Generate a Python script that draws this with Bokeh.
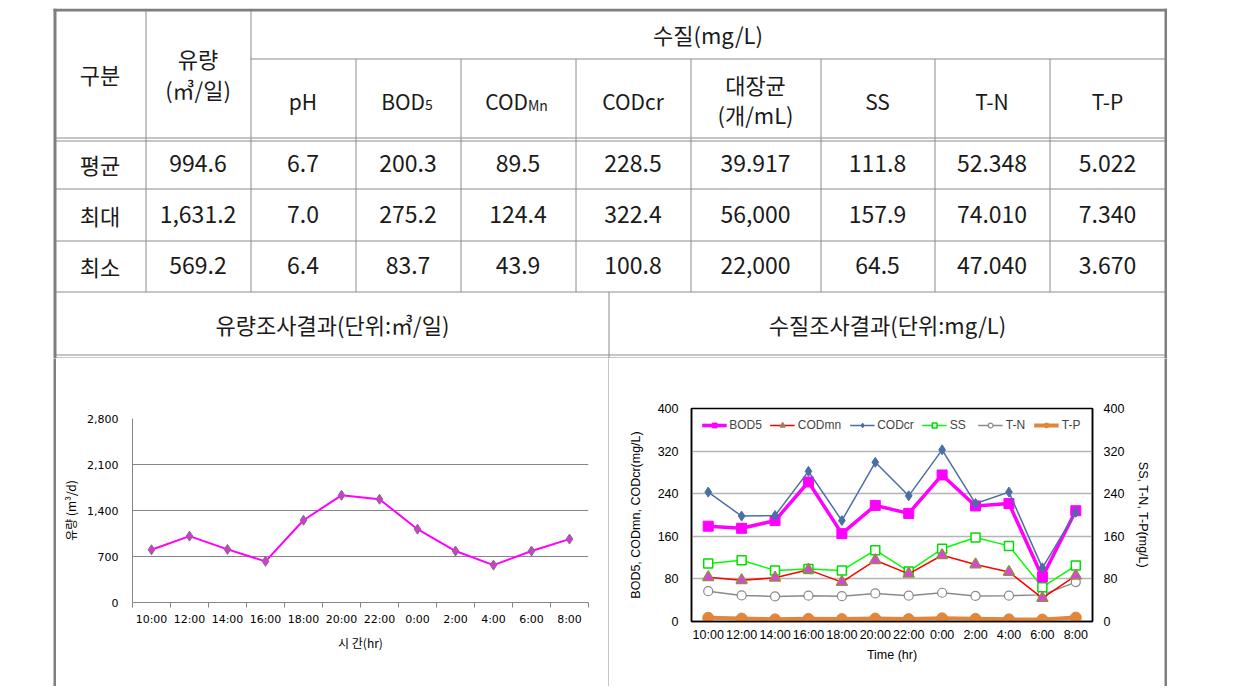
from bokeh.plotting import figure
from bokeh.models import (Range1d, LinearAxis, FixedTicker, Legend, LegendItem,
                          Spacer, NumeralTickFormatter)
from bokeh.layouts import column, row
from bokeh.embed import file_html
from bokeh.resources import INLINE
from bokeh.core.properties import value

KR = "Noto Sans CJK KR"
LAT = "Liberation Sans"

# ---------------- data ----------------
times = ["10:00", "12:00", "14:00", "16:00", "18:00", "20:00", "22:00",
         "0:00", "2:00", "4:00", "6:00", "8:00"]
flow = [803, 1010, 808, 626, 1252, 1631.2, 1571, 1116, 783, 569.2, 783, 965]

bod5 = [179, 175, 189.5, 262, 165, 218, 203, 275.2, 217, 221.5, 83.7, 208]
codmn = [83, 77.5, 82, 97, 74, 115, 89.5, 124.4, 107, 93, 43.9, 86]
codcr = [243, 198, 199, 282, 189.5, 299, 236, 322.4, 221.5, 243, 100.8, 205]
ss = [109, 115, 96, 98.5, 96, 134, 94, 136.5, 157.9, 142, 64.5, 105]
tn = [57, 49, 47.04, 48.5, 47.6, 52.7, 48.5, 54, 48, 48.5, 50, 74.01]
tp = [7.0, 5.5, 4.0, 5.0, 4.5, 5.5, 4.5, 6.0, 5.0, 4.0, 3.67, 7.34]

flow_ticks = [0, 700, 1400, 2100, 2800]
wq_ticks = [0, 80, 160, 240, 320, 400]

row_labels = ["평균", "최대", "최소"]
flow_stats = ["994.6", "1,631.2", "569.2"]
param_main = ["pH", "BOD", "COD", "CODcr", "대장균", "SS", "T-N", "T-P"]
param_sub = ["", "5", "Mn", "", "", "", "", ""]
avg_vals = ["6.7", "200.3", "89.5", "228.5", "39.917", "111.8", "52.348", "5.022"]
max_vals = ["7.0", "275.2", "124.4", "322.4", "56,000", "157.9", "74.010", "7.340"]
min_vals = ["6.4", "83.7", "43.9", "100.8", "22,000", "64.5", "47.040", "3.670"]

# ---------------- table (pixel-like layout coordinates) ----------------
tbl = figure(width=1167, height=350, x_range=Range1d(0, 1167), y_range=Range1d(358, 8),
             toolbar_location=None, output_backend="svg", min_border=0,
             x_axis_location=None, y_axis_location=None, outline_line_color=None)
tbl.grid.visible = False

GRAY = "#8C8C8C"
BORDER = "#7F7F7F"
edges = [54, 145, 250, 355, 460, 575, 690, 820, 934, 1049, 1165]
rows_y = [163, 214, 265]

hx0 = [250, 54, 54, 54, 54, 54, 54, 54]
hx1 = [1165, 1165, 1165, 1165, 1165, 1165, 1165, 1165]
hy = [58.5, 137.5, 140.5, 188.5, 240.5, 291.5, 354.5, 357.5]
tbl.segment(x0=hx0, y0=hy, x1=hx1, y1=hy, line_color=GRAY, line_width=1)

vx = [e + 0.5 for e in edges[1:-1]] + [608.5]
vy0 = [8, 8] + [58.5] * 7 + [291.5]
vy1 = [291.5] * 9 + [358]
tbl.segment(x0=vx, y0=vy0, x1=vx, y1=vy1, line_color=GRAY, line_width=1)

# outer border
tbl.segment(x0=[54.5, 1165.5, 53], y0=[8, 8, 9.5], x1=[54.5, 1165.5, 1167], y1=[358, 358, 9.5],
            line_color=BORDER, line_width=3)

txt = dict(text_align="center", text_baseline="middle", text_color="#1A1A1A",
           text_font=value(KR))
centers = [(edges[i] + edges[i + 1]) / 2 for i in range(len(edges) - 1)]
pcent = centers[2:]

# header
tbl.text(x=[centers[0]], y=[73], text=["구분"], text_font_size="22px", **txt)
tbl.text(x=[centers[1], centers[1]], y=[57, 88], text=["유량", "(㎥/일)"],
         text_font_size="22px", **txt)
tbl.text(x=[(edges[2] + edges[-1]) / 2], y=[33], text=["수질(mg/L)"],
         text_font_size="22px", **txt)

single = [i for i in range(len(param_main)) if param_sub[i] == "" and param_main[i] != "대장균"]
tbl.text(x=[pcent[i] for i in single], y=[100] * len(single),
         text=[param_main[i] for i in single], text_font_size="21px", **txt)
# subscripted parameters
subs = [i for i in range(len(param_main)) if param_sub[i] != ""]
join = [pcent[i] + (17 if len(param_sub[i]) == 1 else 10) for i in subs]
tbl.text(x=join, y=[100] * len(subs), text=[param_main[i] for i in subs],
         text_align="right", text_baseline="middle", text_color="#1A1A1A",
         text_font=value(KR), text_font_size="21px")
tbl.text(x=join, y=[104] * len(subs), text=[param_sub[i] for i in subs],
         text_align="left", text_baseline="middle", text_color="#1A1A1A",
         text_font=value(KR), text_font_size="14px")
ci = param_main.index("대장균")
tbl.text(x=[pcent[ci], pcent[ci]], y=[83, 113], text=["대장균", "(개/mL)"],
         text_font_size="22px", **txt)

# rows
tbl.text(x=[centers[0]] * 3, y=rows_y, text=row_labels, text_font_size="22px", **txt)
tbl.text(x=[centers[1]] * 3, y=rows_y, text=flow_stats, text_font_size="23px", **txt)
for vals, yy in zip([avg_vals, max_vals, min_vals], rows_y):
    tbl.text(x=pcent, y=[yy] * len(vals), text=vals, text_font_size="23px", **txt)

# section titles
tbl.text(x=[332, 887], y=[323, 323],
         text=["유량조사결과(단위:㎥/일)", "수질조사결과(단위:mg/L)"],
         text_font_size="22px", **txt)

# ---------------- left chart: flow ----------------
idx = list(range(len(times)))
pl = figure(frame_width=456, frame_height=184, x_range=Range1d(-0.5, 11.5),
            y_range=Range1d(0, 2800), toolbar_location=None, output_backend="svg",
            min_border_left=76, min_border_right=20, min_border_top=60,
            min_border_bottom=84, outline_line_color=None)
pl.yaxis.ticker = FixedTicker(ticks=flow_ticks)
pl.yaxis.formatter = NumeralTickFormatter(format="0,0")
pl.yaxis.major_tick_out = 0
pl.yaxis.major_tick_in = 0
pl.yaxis.minor_tick_out = 0
pl.yaxis.minor_tick_in = 0
pl.yaxis.major_label_standoff = 14
pl.yaxis.axis_label = "유량 (m³/d)"
pl.yaxis.axis_label_standoff = 5
pl.xaxis.ticker = FixedTicker(ticks=idx, minor_ticks=[i - 0.5 for i in range(len(times) + 1)])
pl.xaxis.major_label_overrides = {i: t for i, t in enumerate(times)}
pl.xaxis.major_tick_out = 0
pl.xaxis.major_tick_in = 0
pl.xaxis.minor_tick_out = 5
pl.xaxis.minor_tick_in = 0
pl.xaxis.major_label_standoff = 5
pl.xaxis.axis_label = "시 간(hr)"
pl.xaxis.axis_label_standoff = 5
for ax in [pl.xaxis, pl.yaxis]:
    ax.axis_line_color = "#868686"
    ax.minor_tick_line_color = "#868686"
    ax.major_label_text_font = "DejaVu Sans"
    ax.major_label_text_font_size = "11px"
    ax.major_label_text_color = "#000000"
    ax.axis_label_text_font = KR
    ax.axis_label_text_font_size = "12px"
    ax.axis_label_text_font_style = "normal"
    ax.axis_label_text_color = "#000000"
pl.xgrid.visible = False
pl.ygrid.ticker = FixedTicker(ticks=flow_ticks)
pl.ygrid.grid_line_color = "#868686"
pl.ygrid.grid_line_width = 1
pl.line(idx, flow, line_color="#FF00FF", line_width=2)
pl.scatter(idx, flow, marker="diamond", size=10, fill_color="#D03CD0",
           line_color="#7F6F7F", line_width=1)

# ---------------- right chart: water quality ----------------
pr = figure(frame_width=401, frame_height=213, x_range=Range1d(-0.5, 11.5),
            y_range=Range1d(0, 400), toolbar_location=None, output_backend="svg",
            min_border_left=82, min_border_right=72, min_border_top=50,
            min_border_bottom=65, outline_line_color="#000000", outline_line_width=1.5)
pr.extra_y_ranges = {"right": Range1d(0, 400)}
pr.add_layout(LinearAxis(y_range_name="right"), "right")
for ax in pr.yaxis:
    ax.ticker = FixedTicker(ticks=wq_ticks)
    ax.major_tick_out = 0
    ax.major_tick_in = 0
    ax.minor_tick_out = 0
    ax.minor_tick_in = 0
pr.yaxis[0].major_label_standoff = 13
pr.yaxis[1].major_label_standoff = 11
pr.yaxis[0].axis_label = "BOD5, CODmn, CODcr(mg/L)"
pr.yaxis[1].axis_label = "SS, T-N, T-P(mg/L)"
pr.yaxis[0].axis_label_standoff = 12
pr.yaxis[1].axis_label_standoff = 9
pr.xaxis.ticker = FixedTicker(ticks=idx)
pr.xaxis.major_label_overrides = {i: t for i, t in enumerate(times)}
pr.xaxis.major_tick_out = 0
pr.xaxis.major_tick_in = 0
pr.xaxis.minor_tick_out = 0
pr.xaxis.minor_tick_in = 0
pr.xaxis.major_label_standoff = 6
pr.xaxis.axis_label = "Time (hr)"
pr.xaxis.axis_label_standoff = 3
for ax in [pr.xaxis[0], pr.yaxis[0], pr.yaxis[1]]:
    ax.axis_line_color = "#000000"
    ax.axis_line_width = 1.5
    ax.major_label_text_font = LAT
    ax.major_label_text_font_size = "12.5px"
    ax.major_label_text_color = "#000000"
    ax.axis_label_text_font = LAT
    ax.axis_label_text_font_size = "12.5px"
    ax.axis_label_text_font_style = "normal"
    ax.axis_label_text_color = "#000000"
pr.xgrid.visible = False
pr.ygrid.ticker = FixedTicker(ticks=wq_ticks[1:-1])
pr.ygrid.grid_line_color = "#B4B4B4"
pr.ygrid.grid_line_width = 1.5

R = "right"
tp_l = pr.line(idx, tp, line_color="#E2863C", line_width=4, y_range_name=R)
tp_s = pr.scatter(idx, tp, marker="circle", size=11, fill_color="#E2863C",
                  line_color="#E2863C", y_range_name=R)
tn_l = pr.line(idx, tn, line_color="#8A8A8A", line_width=1.5, y_range_name=R)
tn_s = pr.scatter(idx, tn, marker="circle", size=9, fill_color="#FFFFFF",
                  line_color="#8A8A8A", line_width=1.2, y_range_name=R)
ss_l = pr.line(idx, ss, line_color="#00FF00", line_width=1.5, y_range_name=R)
ss_s = pr.scatter(idx, ss, marker="square", size=9, fill_color="#FFFFFF",
                  line_color="#00DD00", line_width=1.5, y_range_name=R)
mn_l = pr.line(idx, codmn, line_color="#FF0000", line_width=1.5)
mn_s = pr.scatter(idx, codmn, marker="triangle", size=11, fill_color="#E43DE4",
                  line_color="#8E8E4A", line_width=1.5)
bod_l = pr.line(idx, bod5, line_color="#FF00FF", line_width=3.5)
bod_s = pr.scatter(idx, bod5, marker="square", size=10, fill_color="#FF00FF",
                   line_color="#FF00FF")
cr_l = pr.line(idx, codcr, line_color="#4A6FA5", line_width=1.5)
cr_s = pr.scatter(idx, codcr, marker="diamond", size=10, fill_color="#4A6FA5",
                  line_color="#4A6FA5")

legend = Legend(items=[
    LegendItem(label="BOD5", renderers=[bod_l, bod_s]),
    LegendItem(label="CODmn", renderers=[mn_l, mn_s]),
    LegendItem(label="CODcr", renderers=[cr_l, cr_s]),
    LegendItem(label="SS", renderers=[ss_l, ss_s]),
    LegendItem(label="T-N", renderers=[tn_l, tn_s]),
    LegendItem(label="T-P", renderers=[tp_l, tp_s]),
], orientation="horizontal", location="top_center", border_line_color=None,
    background_fill_alpha=0, label_text_font=LAT, label_text_font_size="12px",
    glyph_width=25, glyph_height=12, spacing=8, padding=0, margin=10,
    label_standoff=3, label_height=12)
pr.add_layout(legend)

# ---------------- border strips ----------------
def strip(w, h, color=BORDER):
    f = figure(width=w, height=h, toolbar_location=None, output_backend="svg",
               min_border=0, x_axis_location=None, y_axis_location=None,
               background_fill_color=color, border_fill_color=color,
               outline_line_color=None)
    f.grid.visible = False
    return f

bottom = row(Spacer(width=53, height=328), strip(3, 328), column(pl),
             strip(1, 328, GRAY), column(pr), strip(3, 328))
base = row(Spacer(width=53, height=3), strip(1114, 3))
layout = column(Spacer(width=1167, height=8), tbl, bottom, base)

open("out.html", "w").write(file_html(layout, INLINE))
